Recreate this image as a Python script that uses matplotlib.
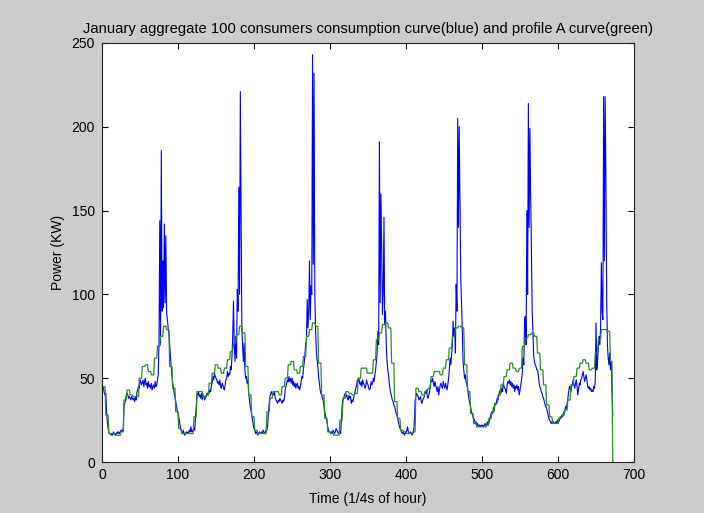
import numpy as np
import matplotlib
matplotlib.use("Agg")
import matplotlib.pyplot as plt

plt.rcParams['font.family'] = ['Liberation Sans', 'DejaVu Sans']

# Profile A, hourly values (kW) for each of the 7 days
green_day1 = [45, 28, 17, 17, 16, 16, 18, 37, 43, 40, 39, 39, 50, 57, 58, 54, 52, 62, 69, 75, 81, 79, 57, 44]
green_day2 = [30, 20, 17, 17, 17, 17, 27, 42, 42, 39, 40, 47, 53, 58, 56, 53, 56, 61, 66, 71, 76, 81, 77, 57]
green_day3 = [40, 27, 19, 17, 17, 17, 30, 38, 42, 42, 40, 45, 50, 58, 60, 55, 53, 57, 63, 75, 79, 83, 81, 59]
green_day4 = [40, 26, 18, 17, 16, 16, 25, 38, 42, 41, 40, 41, 50, 56, 56, 53, 53, 61, 73, 77, 82, 83, 80, 59]
green_day5 = [36, 26, 19, 18, 17, 17, 18, 44, 42, 40, 42, 44, 51, 54, 54, 52, 56, 61, 68, 75, 80, 81, 80, 58]
green_day6 = [42, 29, 23, 21, 21, 21, 22, 26, 30, 35, 40, 46, 51, 55, 59, 56, 54, 56, 69, 74, 76, 77, 75, 65]
green_day7 = [55, 46, 34, 27, 23, 23, 26, 28, 31, 37, 46, 51, 56, 59, 61, 59, 55, 56, 65, 73, 79, 79, 78, 60]
green_last = 0  # profile curve drops to zero on the final quarter-hour

# Aggregate consumption of 100 consumers, one value per quarter-hour
blue_day1 = [45, 44, 41, 40, 41, 30, 24, 20, 18, 17, 17, 16,
             17, 16, 18, 17, 17, 16, 17, 18, 17, 18, 17, 18,
             19, 18, 19, 20, 34, 35, 37, 40, 41, 40, 38, 39,
             38, 37, 39, 38, 37, 38, 36, 39, 37, 42, 43, 45,
             44, 49, 48, 46, 47, 49, 45, 48, 50, 46, 47, 44,
             48, 45, 46, 44, 47, 43, 45, 46, 44, 48, 45, 46,
             49, 52, 72, 144, 70, 186, 90, 120, 92, 142, 95, 135,
             89, 85, 80, 77, 70, 62, 57, 52, 47, 44, 41, 39]
blue_day2 = [36, 33, 31, 29, 27, 24, 21, 19, 18, 17, 19, 17,
             16, 17, 18, 17, 18, 17, 19, 18, 21, 18, 19, 18,
             20, 19, 27, 33, 41, 40, 42, 39, 40, 38, 41, 37,
             40, 39, 37, 38, 39, 41, 40, 42, 41, 43, 42, 46,
             47, 51, 49, 53, 51, 50, 49, 47, 48, 46, 49, 45,
             44, 47, 46, 44, 43, 46, 49, 50, 54, 51, 53, 52,
             57, 55, 63, 75, 96, 70, 60, 75, 62, 103, 90, 164,
             100, 221, 145, 79, 70, 60, 71, 55, 50, 51, 47, 49]
blue_day3 = [41, 37, 33, 31, 28, 25, 22, 20, 19, 17, 18, 17,
             16, 17, 18, 17, 17, 18, 17, 19, 18, 17, 18, 19,
             19, 22, 30, 35, 39, 41, 42, 40, 41, 40, 42, 38,
             37, 36, 35, 37, 36, 38, 37, 36, 35, 37, 36, 38,
             43, 45, 47, 49, 48, 51, 48, 50, 47, 50, 46, 48,
             45, 47, 44, 46, 47, 44, 45, 43, 45, 48, 51, 50,
             55, 59, 64, 71, 72, 97, 80, 90, 120, 85, 105, 100,
             243, 118, 232, 100, 79, 66, 61, 57, 51, 47, 43, 41]
blue_day4 = [40, 38, 37, 33, 30, 28, 26, 24, 21, 19, 18, 18,
             17, 18, 17, 19, 18, 17, 18, 20, 19, 18, 17, 18,
             18, 17, 25, 34, 36, 38, 40, 41, 39, 40, 38, 37,
             40, 38, 39, 35, 37, 36, 38, 40, 42, 44, 46, 49,
             48, 50, 47, 46, 48, 45, 49, 47, 46, 44, 45, 49,
             47, 46, 44, 43, 44, 48, 46, 47, 50, 48, 52, 55,
             60, 65, 78, 70, 191, 95, 160, 127, 88, 100, 146, 82,
             90, 70, 60, 55, 52, 47, 43, 41, 39, 37, 36, 34]
blue_day5 = [33, 31, 29, 28, 26, 24, 22, 20, 19, 18, 17, 18,
             17, 16, 18, 17, 19, 21, 18, 17, 17, 18, 17, 16,
             17, 18, 24, 37, 39, 41, 40, 39, 37, 38, 39, 36,
             35, 37, 38, 39, 42, 41, 43, 39, 38, 40, 42, 46,
             49, 48, 50, 47, 45, 48, 46, 44, 42, 45, 40, 43,
             46, 47, 45, 44, 48, 46, 44, 47, 45, 43, 46, 50,
             55, 62, 58, 64, 70, 84, 75, 80, 65, 106, 90, 205,
             140, 200, 155, 110, 95, 80, 60, 55, 50, 52, 48, 46]
blue_day6 = [44, 40, 37, 35, 33, 30, 29, 27, 26, 25, 23, 24,
             22, 23, 21, 22, 22, 21, 22, 21, 22, 21, 22, 23,
             21, 22, 24, 22, 23, 25, 27, 29, 30, 29, 32, 33,
             35, 34, 36, 38, 37, 40, 42, 43, 41, 44, 42, 47,
             45, 44, 43, 41, 46, 48, 47, 49, 46, 48, 45, 47,
             44, 46, 42, 45, 44, 46, 43, 45, 40, 43, 46, 49,
             53, 62, 58, 85, 87, 70, 150, 100, 214, 140, 199, 158,
             128, 90, 78, 63, 60, 58, 57, 55, 55, 52, 48, 45]
blue_day7 = [44, 42, 41, 39, 38, 36, 34, 33, 32, 30, 28, 26,
             25, 24, 23, 24, 23, 24, 23, 23, 24, 23, 25, 23,
             24, 25, 27, 26, 28, 27, 29, 30, 31, 33, 32, 35,
             38, 42, 45, 44, 42, 45, 47, 49, 46, 44, 47, 49,
             45, 40, 43, 47, 46, 49, 50, 52, 54, 51, 48, 50,
             52, 49, 45, 44, 45, 43, 44, 42, 43, 42, 45, 44,
             48, 83, 55, 60, 67, 75, 70, 80, 119, 90, 85, 218,
             120, 218, 172, 99, 70, 62, 58, 65, 55, 60, 45, 28]

blue = np.concatenate([blue_day1, blue_day2, blue_day3, blue_day4,
                       blue_day5, blue_day6, blue_day7]).astype(float)
green_hourly = np.concatenate([green_day1, green_day2, green_day3, green_day4,
                               green_day5, green_day6, green_day7]).astype(float)
green = np.repeat(green_hourly, 4)
green[-1] = green_last
t = np.arange(1, len(blue) + 1)

fig = plt.figure(figsize=(7.04, 5.13), dpi=100, facecolor='#cccccc')
ax = fig.add_axes([0.1449, 0.0994, 0.7557, 0.8168])
ax.set_facecolor('white')

ax.plot(t, blue, color='#0000ff', lw=0.8)
ax.plot(t, green, color='#2a8c22', lw=0.9)

ax.set_xlim(0, 700)
ax.set_ylim(0, 250)
ax.set_xticks(np.arange(0, 701, 100))
ax.set_yticks(np.arange(0, 251, 50))
ax.tick_params(direction='in', top=True, right=True, length=4.5, width=0.8,
               labelsize=10, colors='black')
ax.tick_params(axis='x', pad=4)
ax.tick_params(axis='y', pad=5)
for s in ax.spines.values():
    s.set_linewidth(0.8)
    s.set_color('#222222')

ax.set_title('January aggregate 100 consumers consumption curve(blue) and profile A curve(green)',
             fontsize=10.6, pad=7.5)
ax.set_xlabel('Time (1/4s of hour)', fontsize=10, labelpad=7.5)
ax.set_ylabel('Power (KW)', fontsize=10, labelpad=5)

fig.savefig('out.png', dpi=100, facecolor=fig.get_facecolor())
